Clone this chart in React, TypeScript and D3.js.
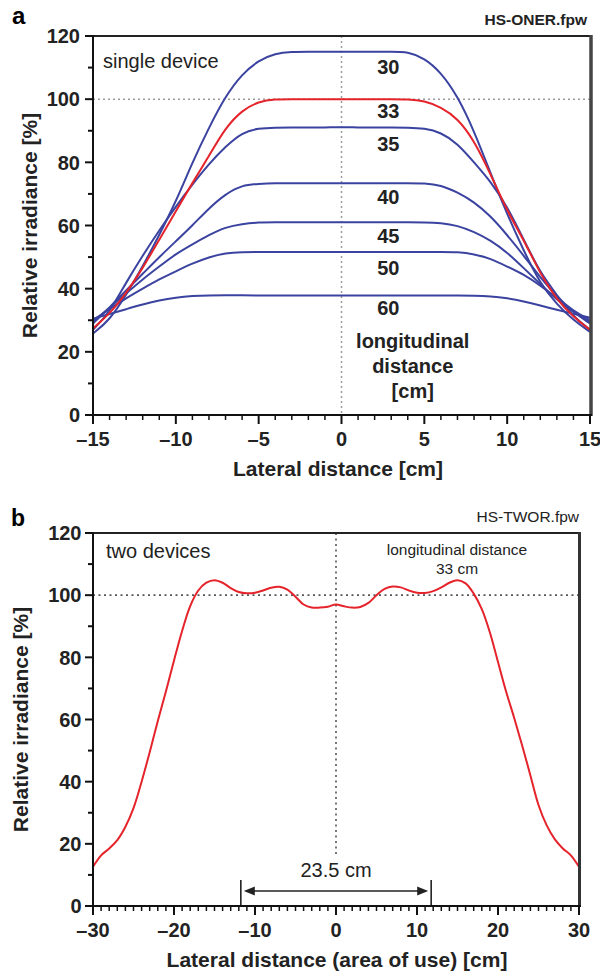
import React from 'react';
import * as d3 from 'd3';

// ---------- Panel a data ----------
const lateralA = [-15, -14, -13, -12, -11, -10, -9, -8, -7, -6, -5, -4, -3, -2, -1, 0, 1, 2, 3, 4, 5, 6, 7, 8, 9, 10, 11, 12, 13, 14, 15];
const irr30 = [25.8, 30, 38, 47, 57, 67.5, 80, 91, 101, 108, 112.3, 114.5, 115, 115, 115, 115, 115, 115, 115, 115, 113, 108.5, 101, 90, 76.5, 63.5, 52, 41.5, 35, 30, 26.3];
const irr33 = [27.4, 32, 38.5, 46.5, 55.5, 64.5, 73.5, 82, 91, 96.5, 99.3, 100, 100, 100, 100, 100, 100, 100, 100, 100, 99.5, 97.5, 94, 87, 76.3, 64.5, 55.5, 44.7, 36.5, 31, 27];
const irr35 = [27, 32.5, 42, 50.5, 58.5, 66, 73, 79.5, 85, 89.5, 90.8, 91, 91, 91, 91, 91.2, 91, 91, 91, 91, 90.8, 89.5, 86, 80, 74, 66, 55.5, 45, 38, 31, 27];
const irr40 = [29, 34, 39.5, 44.7, 50, 55, 60, 65.5, 70, 72.8, 73.2, 73.4, 73.4, 73.4, 73.4, 73.4, 73.4, 73.4, 73.4, 73.4, 73.4, 72.8, 70.5, 67.5, 63, 57, 50.5, 43.5, 37.5, 32.5, 29];
const irr45 = [29.5, 34, 38.5, 43, 47, 51, 54, 57, 59.5, 60.5, 61, 61, 61, 61, 61, 61, 61, 61, 61, 61, 61, 60.8, 60, 58, 55.3, 51.5, 46.5, 41.5, 36.5, 32.5, 29.5];
const irr50 = [30, 33.5, 37, 40, 43, 45.5, 48, 50, 51.3, 51.6, 51.6, 51.6, 51.6, 51.6, 51.6, 51.6, 51.6, 51.6, 51.6, 51.6, 51.6, 51.6, 51.6, 51, 49.5, 47, 44.5, 41, 37, 33, 30];
const irr60 = [30.5, 32, 33.5, 35, 36.3, 37.2, 37.7, 37.9, 37.9, 37.9, 37.8, 37.8, 37.8, 37.8, 37.8, 37.8, 37.8, 37.8, 37.8, 37.8, 37.8, 37.8, 37.8, 37.8, 37.6, 37, 36, 34.7, 33.3, 32, 30.8];
const seriesA = [irr30, irr33, irr35, irr40, irr45, irr50, irr60];
const distancesA = ['30', '33', '35', '40', '45', '50', '60'];
const labelYA = [107.9, 93.9, 83.7, 66.8, 54.6, 44.3, 31.7];
const xTicksA = [-15, -10, -5, 0, 5, 10, 15];
const yTicks = [0, 20, 40, 60, 80, 100, 120];

// ---------- Panel b data ----------
const lateralB = [-30, -29, -28, -27, -26, -25, -24, -23, -22, -21, -20, -19, -18, -17, -16, -15, -14, -13, -12, -11, -10, -9, -8, -7, -6, -5, -4, -3, -2, -1, 0, 1, 2, 3, 4, 5, 6, 7, 8, 9, 10, 11, 12, 13, 14, 15, 16, 17, 18, 19, 20, 21, 22, 23, 24, 25, 26, 27, 28, 29, 30];
const irrTwo = [12.6, 16.3, 18.5, 21.2, 25.5, 31.5, 40, 49.5, 59.5, 69, 79, 88.5, 96.5, 101.5, 104, 104.8, 104, 102.3, 101, 100.6, 100.8, 101.5, 102.4, 102.7, 101.8, 99.5, 97, 96, 96, 96.3, 97, 96.4, 96, 96.2, 97.5, 100, 102, 102.8, 102.5, 101.5, 100.8, 100.7, 101.3, 102.5, 104, 104.8, 103.8, 100.5, 95.5, 88, 78.5, 69, 60.5, 51.5, 42, 32.5, 26, 21.5, 18.5, 16.3, 12.6];
const xTicksB = [-30, -20, -10, 0, 10, 20, 30];
const areaOfUse = 23.5;

const FONT = "'Liberation Sans', Arial, Helvetica, sans-serif";
const BLUE = '#3b43a0';
const RED = '#e5232b';

const fmt = (v: number) => (v < 0 ? '\u2013' + Math.abs(v) : String(v));

export default function App() {
  // panel a scales
  const xA = d3.scaleLinear().domain([-15, 15]).range([93, 590]);
  const yA = d3.scaleLinear().domain([0, 120]).range([415, 36]);
  // panel b scales
  const xB = d3.scaleLinear().domain([-30, 30]).range([93, 579]);
  const yB = d3.scaleLinear().domain([0, 120]).range([906, 533]);

  const lineA = (vals: number[]) =>
    d3.line<number>().x((_, i) => xA(lateralA[i])).y((d) => yA(d)).curve(d3.curveBasis)(vals) || '';
  const lineB =
    d3.line<number>().x((_, i) => xB(lateralB[i])).y((d) => yB(d)).curve(d3.curveCatmullRom.alpha(0.5))(irrTwo) || '';

  const minorXA = d3.range(-15, 16, 1).filter((v) => v % 5 !== 0);
  const minorXB = d3.range(-30, 31, 1).filter((v) => v % 10 !== 0);
  const minorY = d3.range(10, 120, 20);

  const axL = 93;
  const ax0 = xB(-areaOfUse / 2);
  const ax1 = xB(areaOfUse / 2);
  const ay = 891;

  return (
    <svg width={600} height={973} style={{ position: 'absolute', left: 0, top: 0, background: '#fff' }} fontFamily={FONT}>
      {/* ===== Panel a ===== */}
      <text x={12} y={24} fontSize={24} fontWeight="bold">a</text>
      <text x={587} y={25} fontSize={15.5} fontWeight="bold" textAnchor="end" fill="#222">HS-ONER.fpw</text>

      {/* reference lines */}
      <line x1={xA(-15)} x2={xA(15)} y1={yA(100)} y2={yA(100)} stroke="#9a9a9a" strokeWidth={1.5} strokeDasharray="2,3" />
      <line x1={xA(0)} x2={xA(0)} y1={yA(120)} y2={yA(0)} stroke="#9a9a9a" strokeWidth={1.5} strokeDasharray="2,3" />

      {/* curves */}
      {seriesA.map((s, i) =>
        distancesA[i] === '33' ? null : (
          <path key={i} d={lineA(s)} fill="none" stroke={BLUE} strokeWidth={2} />
        )
      )}
      <path d={lineA(irr33)} fill="none" stroke={RED} strokeWidth={2} />

      {/* curve labels */}
      {distancesA.map((d, i) => (
        <text key={d} x={xA(2.83)} y={yA(labelYA[i])} fontSize={20} fontWeight="bold" textAnchor="middle" fill="#222">{d}</text>
      ))}
      <text x={xA(4.3)} y={yA(21.2)} fontSize={20} fontWeight="bold" textAnchor="middle" fill="#222">longitudinal</text>
      <text x={xA(4.3)} y={yA(13.3)} fontSize={20} fontWeight="bold" textAnchor="middle" fill="#222">distance</text>
      <text x={xA(4.3)} y={yA(5.5)} fontSize={20} fontWeight="bold" textAnchor="middle" fill="#222">[cm]</text>
      <text x={103} y={68} fontSize={20} fill="#222">single device</text>

      {/* frame */}
      <line x1={axL} x2={591} y1={36} y2={36} stroke="#222" strokeWidth={2} />
      <line x1={591} x2={591} y1={35} y2={416} stroke="#444" strokeWidth={3.5} />
      <line x1={axL} x2={axL} y1={35} y2={416} stroke="#111" strokeWidth={2} />
      <line x1={axL - 1} x2={592} y1={415} y2={415} stroke="#111" strokeWidth={2} />

      {/* y ticks */}
      {yTicks.map((t) => (
        <g key={t}>
          <line x1={axL - 8} x2={axL} y1={yA(t)} y2={yA(t)} stroke="#111" strokeWidth={2} />
          <text x={80} y={yA(t)} dy="0.36em" fontSize={20} fontWeight="bold" textAnchor="end" fill="#222">{t}</text>
        </g>
      ))}
      {minorY.map((t) => (
        <line key={t} x1={axL - 5} x2={axL} y1={yA(t)} y2={yA(t)} stroke="#111" strokeWidth={2} />
      ))}
      {/* x ticks */}
      {xTicksA.map((t) => (
        <g key={t}>
          <line x1={xA(t)} x2={xA(t)} y1={415} y2={424} stroke="#111" strokeWidth={2} />
          <text x={xA(t)} y={446} fontSize={20} fontWeight="bold" textAnchor="middle" fill="#222">{fmt(t)}</text>
        </g>
      ))}
      {minorXA.map((t) => (
        <line key={t} x1={xA(t)} x2={xA(t)} y1={415} y2={420} stroke="#111" strokeWidth={1.5} />
      ))}
      <text x={338} y={476} fontSize={21} fontWeight="bold" textAnchor="middle" fill="#222">Lateral distance [cm]</text>
      <text transform={`translate(36.5,${(yA(0) + yA(120)) / 2}) rotate(-90)`} fontSize={21} fontWeight="bold" textAnchor="middle" fill="#222">Relative irradiance [%]</text>

      {/* ===== Panel b ===== */}
      <text x={11} y={526} fontSize={23} fontWeight="bold">b</text>
      <text x={579} y={522} fontSize={15.5} textAnchor="end" fill="#222">HS-TWOR.fpw</text>

      <line x1={xB(-30)} x2={xB(30)} y1={yB(100)} y2={yB(100)} stroke="#555" strokeWidth={1.6} strokeDasharray="2,3.5" />
      <line x1={xB(0)} x2={xB(0)} y1={yB(120)} y2={857} stroke="#555" strokeWidth={1.6} strokeDasharray="2,3.5" />

      <path d={lineB} fill="none" stroke={RED} strokeWidth={2} />

      <text x={106} y={558} fontSize={20} fill="#222">two devices</text>
      <text x={457} y={555} fontSize={15.5} textAnchor="middle" fill="#222">longitudinal distance</text>
      <text x={457} y={574} fontSize={15.5} textAnchor="middle" fill="#222">33 cm</text>

      {/* area of use arrow */}
      <line x1={ax0} x2={ax0} y1={880} y2={906} stroke="#222" strokeWidth={1.6} />
      <line x1={ax1} x2={ax1} y1={880} y2={906} stroke="#222" strokeWidth={1.6} />
      <line x1={ax0 + 8} x2={ax1 - 8} y1={ay} y2={ay} stroke="#222" strokeWidth={1.6} />
      <path d={`M${ax0 + 3},${ay} L${ax0 + 14},${ay - 4.5} L${ax0 + 14},${ay + 4.5} Z`} fill="#222" />
      <path d={`M${ax1 - 3},${ay} L${ax1 - 14},${ay - 4.5} L${ax1 - 14},${ay + 4.5} Z`} fill="#222" />
      <text x={xB(0)} y={877} fontSize={20} textAnchor="middle" fill="#222">{areaOfUse} cm</text>

      {/* frame */}
      <line x1={axL} x2={580} y1={533} y2={533} stroke="#222" strokeWidth={2} />
      <line x1={579.5} x2={579.5} y1={532} y2={907} stroke="#333" strokeWidth={3} />
      <line x1={axL} x2={axL} y1={532} y2={907} stroke="#111" strokeWidth={2} />
      <line x1={axL - 1} x2={581} y1={906} y2={906} stroke="#111" strokeWidth={2} />

      {yTicks.map((t) => (
        <g key={t}>
          <line x1={axL - 8} x2={axL} y1={yB(t)} y2={yB(t)} stroke="#111" strokeWidth={2} />
          <text x={81.5} y={yB(t)} dy="0.36em" fontSize={20} fontWeight="bold" textAnchor="end" fill="#222">{t}</text>
        </g>
      ))}
      {minorY.map((t) => (
        <line key={t} x1={axL - 5} x2={axL} y1={yB(t)} y2={yB(t)} stroke="#111" strokeWidth={2} />
      ))}
      {xTicksB.map((t) => (
        <g key={t}>
          <line x1={xB(t)} x2={xB(t)} y1={906} y2={915} stroke="#111" strokeWidth={2} />
          <text x={xB(t)} y={937} fontSize={20} fontWeight="bold" textAnchor="middle" fill="#222">{fmt(t)}</text>
        </g>
      ))}
      {minorXB.map((t) => (
        <line key={t} x1={xB(t)} x2={xB(t)} y1={906} y2={911} stroke="#111" strokeWidth={1.5} />
      ))}
      <text x={337} y={967} fontSize={21} fontWeight="bold" textAnchor="middle" fill="#222">Lateral distance (area of use) [cm]</text>
      <text transform={`translate(28,${(yB(0) + yB(120)) / 2}) rotate(-90)`} fontSize={21} fontWeight="bold" textAnchor="middle" fill="#222">Relative irradiance [%]</text>
    </svg>
  );
}
